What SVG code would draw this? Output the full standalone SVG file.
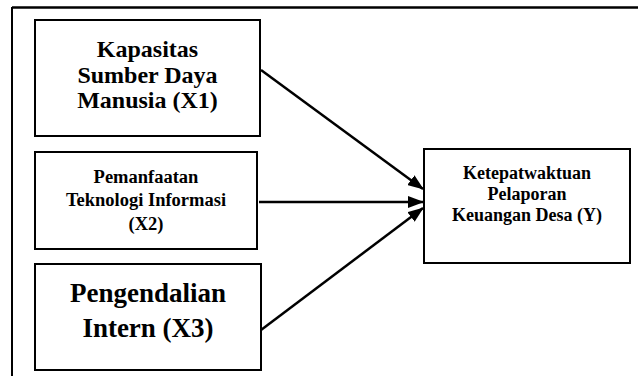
<svg xmlns="http://www.w3.org/2000/svg" width="638" height="376" viewBox="0 0 638 376">
<style>
.box{fill:#fff;stroke:#000;stroke-width:2}
.t{font-family:"Liberation Serif","Times New Roman",serif;font-weight:bold;fill:#000;text-anchor:middle}
.edge{stroke:#000;stroke-width:2.5;fill:none}
</style>
<defs>
<marker id="ah" markerWidth="16" markerHeight="12" refX="15" refY="6" orient="auto" markerUnits="userSpaceOnUse">
<path d="M0,0 L16,6 L0,12 Z" fill="#000"/>
</marker>
</defs>
<rect width="638" height="376" fill="#fff"/>
<g id="frame">
<line x1="12" y1="7.5" x2="638" y2="7.5" stroke="#000" stroke-width="2.5"/>
<line x1="12" y1="7" x2="12" y2="376" stroke="#000" stroke-width="2"/>
</g>
<g id="x1">
<rect class="box" x="35" y="20" width="225" height="116"/>
<text class="t" font-size="24" x="147.5" y="57">Kapasitas</text>
<text class="t" font-size="24" x="147.5" y="83">Sumber Daya</text>
<text class="t" font-size="24" x="147.5" y="108">Manusia (X1)</text>
</g>
<g id="x2">
<rect class="box" x="35" y="152" width="222" height="97"/>
<text class="t" font-size="18.5" x="146" y="183">Pemanfaatan</text>
<text class="t" font-size="18.5" x="146" y="206">Teknologi Informasi</text>
<text class="t" font-size="18.5" x="146" y="230">(X2)</text>
</g>
<g id="x3">
<rect class="box" x="35" y="264" width="226" height="106"/>
<text class="t" font-size="27" x="148" y="302">Pengendalian</text>
<text class="t" font-size="27" x="148" y="337">Intern (X3)</text>
</g>
<g id="y">
<rect class="box" x="424" y="149" width="206" height="114"/>
<text class="t" font-size="18" x="527" y="179">Ketepatwaktuan</text>
<text class="t" font-size="18" x="527" y="200">Pelaporan</text>
<text class="t" font-size="18" x="527" y="221">Keuangan Desa (Y)</text>
</g>
<g id="connectors">
<line class="edge" x1="261" y1="70" x2="423" y2="189" marker-end="url(#ah)"/>
<line class="edge" x1="259" y1="202" x2="423" y2="202" marker-end="url(#ah)"/>
<line class="edge" x1="261" y1="330" x2="423" y2="208" marker-end="url(#ah)"/>
</g>
</svg>
